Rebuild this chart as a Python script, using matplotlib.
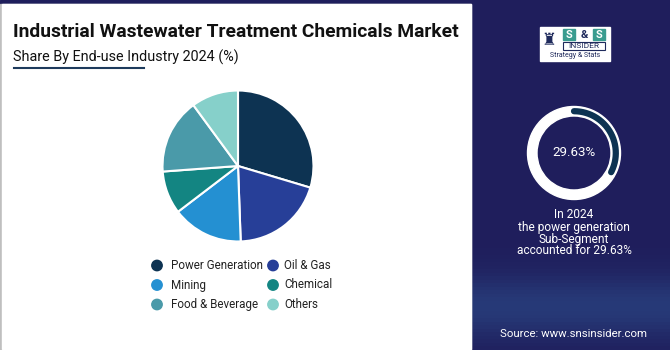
import numpy as np
import matplotlib
matplotlib.use("Agg")
import matplotlib.pyplot as plt
from matplotlib.patches import Rectangle, Circle, Wedge

# ---- data ----
categories = ["Power Generation", "Oil & Gas", "Mining", "Chemical", "Food & Beverage", "Others"]
shares = [29.63, 19.8, 15.2, 9.2, 16.1, 10.07]
colors = ["#0d3352", "#273f98", "#2490d2", "#138582", "#4a9aa9", "#86d0ca"]
highlight_value = 29.63
title = "Industrial Wastewater Treatment Chemicals Market"
subtitle = "Share By End-use Industry 2024 (%)"
note_lines = ["In 2024", "the power generation", "Sub-Segment", "accounted for 29.63%"]
source = "Source: www.snsinsider.com"

W, H = 670, 350
NAVY = "#1f1e5c"
plt.rcParams['font.family'] = ['Roboto', 'DejaVu Sans']

fig = plt.figure(figsize=(W / 100, H / 100), dpi=100)
bg = fig.add_axes([0, 0, 1, 1])
bg.set_xlim(0, W)
bg.set_ylim(H, 0)
bg.axis("off")

# backgrounds
bg.add_patch(Rectangle((0, 0), W, H, color=NAVY, zorder=0))
grad = np.zeros((100, 1, 3))
base = np.array([0x1f, 0x1e, 0x5c]) / 255
light = np.array([0x27, 0x3a, 0x78]) / 255
ys = np.linspace(0, 1, 100)
w = np.clip(np.exp(-((ys - 0.88) / 0.09) ** 2), 0, 1)
for i in range(100):
    grad[i, 0] = base * (1 - w[i]) + light * w[i]
bg.imshow(grad, extent=(471, W, H, 0), aspect="auto", zorder=0.5)
bg.add_patch(Rectangle((0, 4), 471, H - 4, color="#bfbfbf", zorder=1))
bg.add_patch(Rectangle((1.5, 4), 469.5, H - 5.5, color="white", zorder=1.1))

# title
bg.text(13, 32, title, fontsize=13.9, fontweight="bold", color="#111111",
        va="center", ha="left", zorder=3)
bg.text(13, 57, subtitle, fontsize=10.4, color="#111111", va="center", ha="left", zorder=3)
bg.plot([14, 144], [67.5, 67.5], color="#1d3a5c", lw=1.5, zorder=3)

# pie
cx, cy, r = 238, 166, 77
pax = fig.add_axes([(cx - r) / W, (H - cy - r) / H, 2 * r / W, 2 * r / H])
pax.pie(shares, colors=colors, startangle=90, counterclock=False,
        wedgeprops=dict(edgecolor="white", linewidth=1.5))
pax.set_xlim(-1.02, 1.02)
pax.set_ylim(-1.02, 1.02)
pax.set_aspect("equal")
pax.axis("off")

# legend
lx = [157, 273]
tx = [171, 284]
ly = [265.5, 285, 304.5]
for i, (cat, col) in enumerate(zip(categories, colors)):
    row, colm = divmod(i, 2)
    bg.add_patch(Circle((lx[colm], ly[row]), 5.2, color=col, zorder=3))
    bg.text(tx[colm], ly[row], cat, fontsize=8.4, color="#222222",
            va="center", ha="left", zorder=3)

# logo
bg.add_patch(Rectangle((540, 27), 70, 34, color="white", zorder=3))
bg.text(549, 40, "♜", fontsize=12, color="#1f2a5c", ha="center", va="center", zorder=4,
        family=["DejaVu Sans"])
for k, ch in enumerate(["S", "&", "S"]):
    x0 = 563 + k * 15
    if ch == "S":
        bg.add_patch(Rectangle((x0, 29), 12, 11, color="#3a9c8f", zorder=4))
        bg.text(x0 + 6, 34.8, ch, fontsize=8, fontweight="bold", color="white",
                ha="center", va="center", zorder=5)
    else:
        bg.text(x0 + 6, 34.8, ch, fontsize=8, fontweight="bold", color="#1f2a5c",
                ha="center", va="center", zorder=5)
bg.add_patch(Rectangle((563, 42), 42, 8, facecolor="white", edgecolor="#1f2a5c",
                       lw=0.8, zorder=4))
bg.text(584, 46.2, "INSIDER", fontsize=6, color="#1f2a5c", ha="center", va="center", zorder=5)
bg.text(575, 55.5, "Strategy & Stats", fontsize=5, color="#1f2a5c", ha="center",
        va="center", zorder=5)

# ring
rx, ry = 574, 153
rax = fig.add_axes([(rx - 48) / W, (H - ry - 48) / H, 96 / W, 96 / H])
rax.set_xlim(-48, 48)
rax.set_ylim(-48, 48)
rax.set_aspect("equal")
rax.axis("off")
rax.add_patch(Wedge((0, 0), 46.5, 0, 360, width=9.5, color="white"))
th = np.radians(np.linspace(90, 90 - 360 * highlight_value / 100 * 1.1, 200))
rax.plot(41.8 * np.cos(th), 41.8 * np.sin(th), color="#0d3352", lw=4.5,
         solid_capstyle="round")
rax.text(0, 0, f"{highlight_value:.2f}%", fontsize=9.6, color="white",
         ha="center", va="center")

# note text
for i, line in enumerate(note_lines):
    bg.text(574, 215 + i * 12, line, fontsize=8.6, color="white", ha="center",
            va="center", zorder=3)

bg.text(574, 334, source, fontsize=8.2, color="white", ha="center", va="center", zorder=3)

fig.savefig("out.png", dpi=100)
